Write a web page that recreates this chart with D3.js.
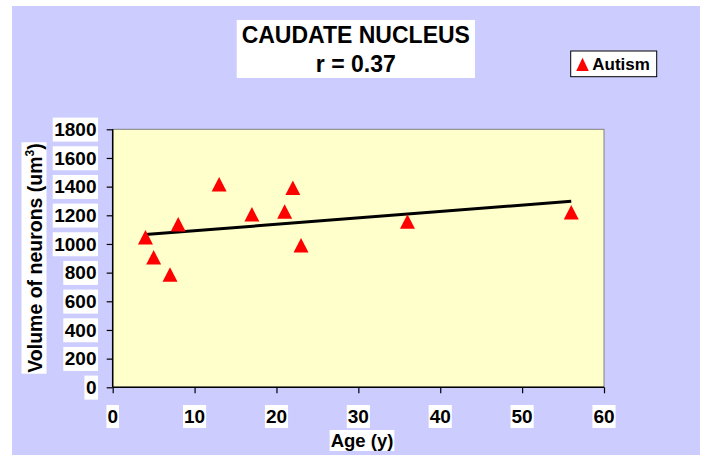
<!DOCTYPE html>
<html lang="en">
  <head>
    <meta charset="utf-8">
    <style>
      body { margin: 0; background: #fff; }
      text { font-family: "Liberation Sans", Arial, sans-serif; font-weight: bold; fill: #000; }
      .marker { fill: #ff0000; }
      .trend { stroke: #000; stroke-width: 3; fill: none; }
    </style>
  </head>
  <body>
  </body>
  <script src="https://d3js.org/d3.v7.min.js"></script>

  <script>
  // age (years) and mean neuron volume for the autism cases
  var ages = [4, 5, 7, 8, 13, 17, 21, 22, 23, 36, 56];
  var volumes = [1045, 905, 785, 1135, 1415, 1205, 1225, 1390, 990, 1155, 1220];

  var xTicks = [0, 10, 20, 30, 40, 50, 60];
  var yTicks = [0, 200, 400, 600, 800, 1000, 1200, 1400, 1600, 1800];

  var titleLines = ["CAUDATE NUCLEUS", "r = 0.37"];
  var seriesName = "Autism";

  var width = 706;
  var height = 456;

  var svg = d3.select("body")
    .append("svg")
    .attr('width', width)
    .attr('height', height);

  // lavender chart area
  svg.append("rect")
    .attr("x", 12).attr("y", 6)
    .attr("width", 688).attr("height", 449)
    .attr("fill", "#ccccff");

  var plot = { left: 112.7, right: 604, top: 129.3, bottom: 387.3 };

  var x = d3.scaleLinear().domain([0, 60]).range([plot.left, plot.right]);
  var y = d3.scaleLinear().domain([0, 1800]).range([plot.bottom, plot.top]);

  // plot area
  svg.append("rect")
    .attr("x", plot.left).attr("y", plot.top)
    .attr("width", plot.right - plot.left)
    .attr("height", plot.bottom - plot.top)
    .attr("fill", "#ffffcc")
    .attr("stroke", "#808080")
    .attr("stroke-width", 1);

  // text with a white box behind it
  function boxed(g, pad) {
    g.each(function() {
      var t = d3.select(this);
      var b = this.getBBox();
      d3.select(this.parentNode).insert("rect", function() { return t.node(); })
        .attr("x", b.x - pad[0]).attr("y", b.y - pad[1])
        .attr("width", b.width + 2 * pad[0]).attr("height", b.height + 2 * pad[1])
        .attr("fill", "#fff");
    });
  }

  // axes
  var xAxis = svg.append("g")
    .attr("transform", "translate(0," + plot.bottom + ")")
    .call(d3.axisBottom(x).tickValues(xTicks).tickSize(6).tickFormat(""));
  var yAxis = svg.append("g")
    .attr("transform", "translate(" + plot.left + ",0)")
    .call(d3.axisLeft(y).tickValues(yTicks).tickSize(6).tickFormat(""));
  [xAxis, yAxis].forEach(function(a) {
    a.select(".domain").attr("stroke", "#000").attr("stroke-width", 1.5);
    a.selectAll(".tick line").attr("stroke", "#000").attr("stroke-width", 1.2);
  });
  xAxis.select(".domain").attr("d", "M" + plot.left + ",0H" + plot.right);
  yAxis.select(".domain").attr("d", "M0," + plot.top + "V" + plot.bottom);

  var xLabels = svg.append("g");
  xLabels.selectAll("text")
    .data(xTicks)
    .enter().append("text")
    .attr("x", function(d) { return x(d); })
    .attr("y", 423)
    .attr("text-anchor", "middle")
    .style("font-size", "19px")
    .text(function(d) { return d; })
    .call(boxed, [1, 1]);

  var yLabels = svg.append("g");
  yLabels.selectAll("text")
    .data(yTicks)
    .enter().append("text")
    .attr("x", 96.5)
    .attr("y", function(d) { return y(d) + 6.8; })
    .attr("text-anchor", "end")
    .style("font-size", "19px")
    .text(function(d) { return d; })
    .call(boxed, [1.5, 1.5]);

  // axis titles
  svg.append("g").append("text")
    .attr("x", 362).attr("y", 447)
    .attr("text-anchor", "middle")
    .style("font-size", "18.5px")
    .text("Age (y)")
    .call(boxed, [1, 0]);

  var yTitle = svg.append("g").attr("transform", "translate(41.5,258) rotate(-90)");
  var yt = yTitle.append("text")
    .attr("text-anchor", "middle")
    .style("font-size", "19.5px");
  yt.append("tspan").text("Volume of neurons (um");
  yt.append("tspan").attr("dy", -8).style("font-size", "12px").text("3");
  yt.append("tspan").attr("dy", 8).text(")");
  yt.call(boxed, [1, 1]);

  // title
  var title = svg.append("g");
  title.append("rect")
    .attr("x", 236.7).attr("y", 20)
    .attr("width", 238.3).attr("height", 58)
    .attr("fill", "#fff");
  title.selectAll("text")
    .data(titleLines)
    .enter().append("text")
    .attr("x", 355.8)
    .attr("y", function(d, i) { return 43 + i * 29; })
    .attr("text-anchor", "middle")
    .style("font-size", "23px")
    .text(function(d) { return d; });

  // trend line (least squares)
  var points = ages.map(function(a, i) { return [a, volumes[i]]; });
  var mx = d3.mean(ages), my = d3.mean(volumes);
  var sxy = d3.sum(points, function(p) { return (p[0] - mx) * (p[1] - my); });
  var sxx = d3.sum(points, function(p) { return (p[0] - mx) * (p[0] - mx); });
  var slope = sxy / sxx;
  var intercept = my - slope * mx;
  var ext = d3.extent(ages);

  svg.append("path")
    .attr("class", "trend")
    .attr("d", d3.line()
      .x(function(d) { return x(d); })
      .y(function(d) { return y(intercept + slope * d); })(ext));

  var tri = function(cx, cy) {
    return "M" + cx + "," + (cy - 7.5) + "L" + (cx + 7.5) + "," + (cy + 7) +
      "L" + (cx - 7.5) + "," + (cy + 7) + "Z";
  };

  svg.selectAll("path.marker")
    .data(points)
    .enter().append("path")
    .attr("class", "marker")
    .attr("d", function(d) { return tri(x(d[0]), y(d[1])); });

  // legend
  var legend = svg.append("g");
  legend.append("rect")
    .attr("x", 570.7).attr("y", 51)
    .attr("width", 86).attr("height", 25.7)
    .attr("fill", "#fff")
    .attr("stroke", "#000")
    .attr("stroke-width", 1);
  legend.append("path")
    .attr("class", "marker")
    .attr("d", "M582.5,57.8L588.8,71L576.2,71Z");
  legend.append("text")
    .attr("x", 592.3).attr("y", 70)
    .style("font-size", "17px")
    .text(seriesName);
  </script>
</html>
